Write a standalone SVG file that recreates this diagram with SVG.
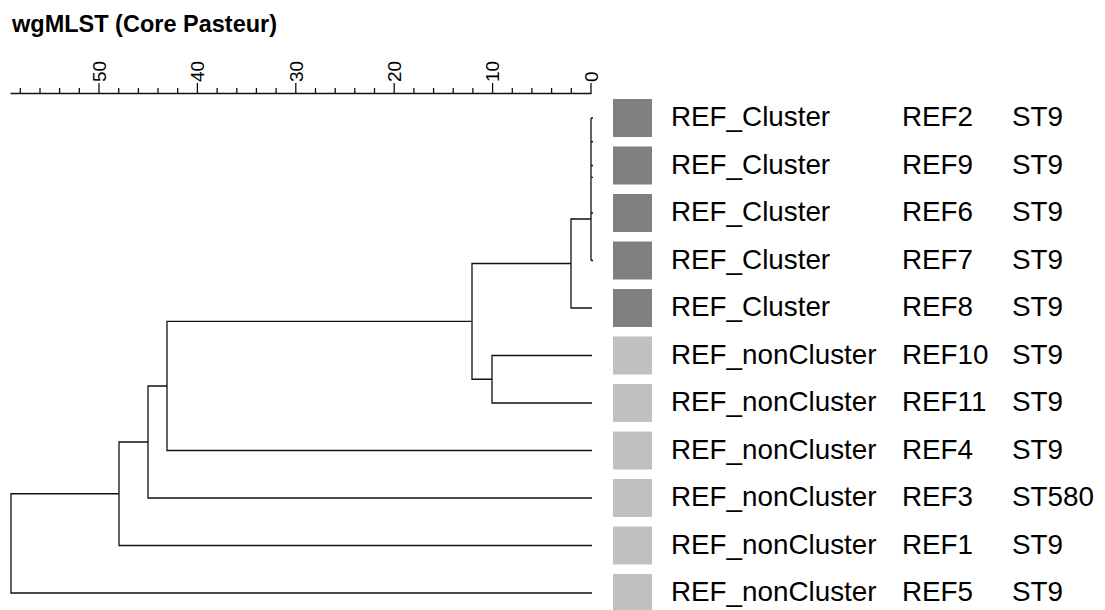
<svg xmlns="http://www.w3.org/2000/svg" width="1105" height="610" viewBox="0 0 1105 610">
<style>
.title{font-family:"Liberation Sans",Arial,sans-serif;font-weight:bold;font-size:23.5px;fill:#000}
.lbl{font-family:"Liberation Sans",Arial,sans-serif;font-size:27.8px;fill:#000}
.ax{font-family:"Liberation Sans",Arial,sans-serif;font-size:19px;fill:#000}
.ln{fill:none;stroke:#111;stroke-width:1.3}
.dk{fill:#808080}
.lt{fill:#c0c0c0}
</style>
<rect width="1105" height="610" fill="#fff"/>
<text class="title" x="12" y="31.5">wgMLST (Core Pasteur)</text>
<g id="axis">
<path class="ln" d="M10.5,93.5 H591.5"/>
<path class="ln" d="M591,83 V93.5 M492.6,83 V93.5 M394.2,83 V93.5 M295.8,83 V93.5 M197.4,83 V93.5 M99,83 V93.5"/>
<path class="ln" d="M571.3,88 V93.5 M551.6,88 V93.5 M531.9,88 V93.5 M512.3,88 V93.5 M472.9,88 V93.5 M453.2,88 V93.5 M433.6,88 V93.5 M413.9,88 V93.5 M374.5,88 V93.5 M354.8,88 V93.5 M335.2,88 V93.5 M315.5,88 V93.5 M276.1,88 V93.5 M256.4,88 V93.5 M236.8,88 V93.5 M217.1,88 V93.5 M177.7,88 V93.5 M158,88 V93.5 M138.4,88 V93.5 M118.7,88 V93.5 M79.3,88 V93.5 M59.6,88 V93.5 M40,88 V93.5 M20.3,88 V93.5"/>
<text class="ax" transform="translate(597.8,82) rotate(-90)">0</text>
<text class="ax" transform="translate(499.4,82) rotate(-90)">10</text>
<text class="ax" transform="translate(401,82) rotate(-90)">20</text>
<text class="ax" transform="translate(302.6,82) rotate(-90)">30</text>
<text class="ax" transform="translate(204.2,82) rotate(-90)">40</text>
<text class="ax" transform="translate(105.8,82) rotate(-90)">50</text>
</g>
<g id="connectors">
<path class="ln" d="M591,118 V260.5 M591,118 H593 M591,141.75 H593 M591,165.5 H593 M591,177.4 H593 M591,213 H593 M591,260.5 H593"/>
<path class="ln" d="M591,219 H571 V308 H592"/>
<path class="ln" d="M592,355.5 H492 V403 H592"/>
<path class="ln" d="M571,263.5 H472 V379.25 H492"/>
<path class="ln" d="M472,321.4 H167 V450.5 H592"/>
<path class="ln" d="M167,386 H148 V498 H592"/>
<path class="ln" d="M148,442 H119 V545.5 H592"/>
<path class="ln" d="M119,493.75 H11 V593 H592"/>
</g>
<g id="REF2"><rect class="dk" x="613" y="99" width="39" height="38"/><text class="lbl" x="671" y="126">REF_Cluster</text><text class="lbl" x="902" y="126">REF2</text><text class="lbl" x="1012" y="126">ST9</text></g>
<g id="REF9"><rect class="dk" x="613" y="146.5" width="39" height="38"/><text class="lbl" x="671" y="173.5">REF_Cluster</text><text class="lbl" x="902" y="173.5">REF9</text><text class="lbl" x="1012" y="173.5">ST9</text></g>
<g id="REF6"><rect class="dk" x="613" y="194" width="39" height="38"/><text class="lbl" x="671" y="221">REF_Cluster</text><text class="lbl" x="902" y="221">REF6</text><text class="lbl" x="1012" y="221">ST9</text></g>
<g id="REF7"><rect class="dk" x="613" y="241.5" width="39" height="38"/><text class="lbl" x="671" y="268.5">REF_Cluster</text><text class="lbl" x="902" y="268.5">REF7</text><text class="lbl" x="1012" y="268.5">ST9</text></g>
<g id="REF8"><rect class="dk" x="613" y="289" width="39" height="38"/><text class="lbl" x="671" y="316">REF_Cluster</text><text class="lbl" x="902" y="316">REF8</text><text class="lbl" x="1012" y="316">ST9</text></g>
<g id="REF10"><rect class="lt" x="613" y="336.5" width="39" height="38"/><text class="lbl" x="671" y="363.5">REF_nonCluster</text><text class="lbl" x="902" y="363.5">REF10</text><text class="lbl" x="1012" y="363.5">ST9</text></g>
<g id="REF11"><rect class="lt" x="613" y="384" width="39" height="38"/><text class="lbl" x="671" y="411">REF_nonCluster</text><text class="lbl" x="902" y="411">REF11</text><text class="lbl" x="1012" y="411">ST9</text></g>
<g id="REF4"><rect class="lt" x="613" y="431.5" width="39" height="38"/><text class="lbl" x="671" y="458.5">REF_nonCluster</text><text class="lbl" x="902" y="458.5">REF4</text><text class="lbl" x="1012" y="458.5">ST9</text></g>
<g id="REF3"><rect class="lt" x="613" y="479" width="39" height="38"/><text class="lbl" x="671" y="506">REF_nonCluster</text><text class="lbl" x="902" y="506">REF3</text><text class="lbl" x="1012" y="506">ST580</text></g>
<g id="REF1"><rect class="lt" x="613" y="526.5" width="39" height="38"/><text class="lbl" x="671" y="553.5">REF_nonCluster</text><text class="lbl" x="902" y="553.5">REF1</text><text class="lbl" x="1012" y="553.5">ST9</text></g>
<g id="REF5"><rect class="lt" x="613" y="574" width="39" height="38"/><text class="lbl" x="671" y="601">REF_nonCluster</text><text class="lbl" x="902" y="601">REF5</text><text class="lbl" x="1012" y="601">ST9</text></g>
</svg>
